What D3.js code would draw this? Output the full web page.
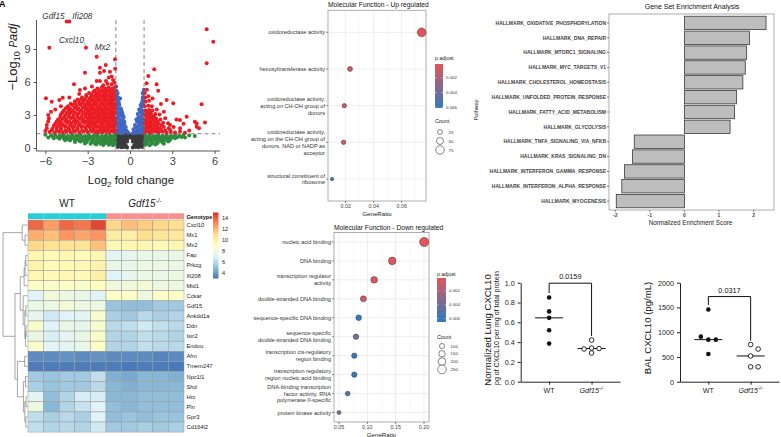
<!DOCTYPE html>
<html><head><meta charset="utf-8">
<script src="https://cdn.jsdelivr.net/npm/d3@7"></script>
<style>body{margin:0;background:#fff} text{font-family:"Liberation Sans",Arial,sans-serif}</style>
</head><body><svg id="c" width="781" height="437" xmlns="http://www.w3.org/2000/svg"></svg>
<script>
// ================= DATA =================
// Volcano: [log2 fold change, -log10 padj]
const volcanoRed = [
[-5.7,1.45],[-5.35,1.4],[-5.05,1.5],[-4.8,1.38],[-4.5,1.47],[-4.2,1.42],[-3.9,1.5],[-3.6,1.4],[-3.3,1.48],[-3.0,1.41],[-2.7,1.5],[-2.45,1.39],[-2.2,1.46],[-1.95,1.42],[-1.7,1.5],[-1.45,1.4],[-1.2,1.47],[-1.05,1.55],
[-5.55,1.62],[-5.2,1.6],[-4.9,1.66],[-4.6,1.58],[-4.3,1.64],[-4.0,1.6],[-3.7,1.67],[-3.4,1.59],[-3.1,1.65],[-2.8,1.6],[-2.55,1.66],[-2.3,1.58],[-2.05,1.64],[-1.8,1.6],[-1.55,1.67],[-1.3,1.6],[-1.08,1.65],
[-5.5,1.75],[-5.2,1.85],[-4.9,1.8],[-4.6,1.9],[-4.35,1.78],[-4.05,1.86],[-3.75,1.8],[-3.45,1.9],[-3.15,1.82],[-2.85,1.88],[-2.6,1.78],[-2.35,1.9],[-2.1,1.8],[-1.85,1.86],[-1.6,1.8],[-1.35,1.9],[-1.12,1.82],
[-5.4,2.02],[-5.1,2.0],[-4.85,2.06],[-4.55,1.98],[-4.25,2.04],[-3.95,2.0],[-3.65,2.07],[-3.35,1.99],[-3.05,2.05],[-2.8,2.0],[-2.55,2.06],[-2.3,1.98],[-2.05,2.04],[-1.8,2.0],[-1.55,2.06],[-1.3,2.0],[-1.1,2.05],
[-5.3,2.2],[-5.0,2.25],[-4.75,2.15],[-4.45,2.3],[-4.15,2.2],[-3.85,2.27],[-3.55,2.18],[-3.25,2.3],[-2.95,2.2],[-2.7,2.28],[-2.45,2.2],[-2.2,2.3],[-1.95,2.22],[-1.7,2.3],[-1.45,2.2],[-1.2,2.28],[-1.03,2.2],
[-5.2,2.42],[-4.9,2.4],[-4.6,2.45],[-4.3,2.38],[-4.0,2.44],[-3.7,2.4],[-3.4,2.46],[-3.1,2.4],[-2.85,2.45],[-2.6,2.38],[-2.35,2.44],[-2.1,2.4],[-1.85,2.46],[-1.6,2.4],[-1.35,2.45],[-1.12,2.4],
[-5.1,2.6],[-4.8,2.65],[-4.5,2.58],[-4.2,2.7],[-3.9,2.6],[-3.6,2.68],[-3.3,2.6],[-3.0,2.7],[-2.75,2.62],[-2.5,2.7],[-2.25,2.6],[-2.0,2.68],[-1.75,2.6],[-1.5,2.7],[-1.25,2.62],[-1.06,2.7],
[-4.95,2.82],[-4.65,2.8],[-4.35,2.86],[-4.05,2.8],[-3.75,2.84],[-3.45,2.8],[-3.15,2.87],[-2.9,2.8],[-2.65,2.85],[-2.4,2.8],[-2.15,2.86],[-1.9,2.8],[-1.65,2.85],[-1.4,2.8],[-1.15,2.86],
[-4.9,3.05],[-4.6,2.98],[-4.3,3.1],[-4.0,3.0],[-3.7,3.08],[-3.4,3.0],[-3.1,3.1],[-2.85,3.02],[-2.6,3.1],[-2.35,3.0],[-2.1,3.1],[-1.85,3.02],[-1.6,3.1],[-1.35,3.0],[-1.12,3.08],
[-4.8,3.22],[-4.5,3.2],[-4.2,3.26],[-3.9,3.2],[-3.6,3.25],[-3.3,3.2],[-3.0,3.26],[-2.75,3.2],[-2.5,3.25],[-2.25,3.2],[-2.0,3.26],[-1.75,3.2],[-1.5,3.25],[-1.25,3.2],[-1.05,3.26],
[-4.7,3.4],[-4.35,3.45],[-4.05,3.38],[-3.75,3.5],[-3.45,3.4],[-3.15,3.48],[-2.9,3.4],[-2.65,3.5],[-2.4,3.42],[-2.15,3.5],[-1.9,3.4],[-1.65,3.5],[-1.4,3.42],[-1.15,3.5],
[-4.55,3.62],[-4.25,3.6],[-3.95,3.66],[-3.65,3.6],[-3.35,3.65],[-3.05,3.6],[-2.8,3.66],[-2.55,3.6],[-2.3,3.65],[-2.05,3.6],[-1.8,3.66],[-1.55,3.6],[-1.3,3.65],[-1.08,3.62],
[-4.4,3.8],[-4.1,3.9],[-3.8,3.82],[-3.5,3.9],[-3.2,3.8],[-2.95,3.9],[-2.7,3.82],[-2.45,3.92],[-2.2,3.8],[-1.95,3.9],[-1.7,3.82],[-1.45,3.92],[-1.2,3.85],[-1.04,3.95],
[-4.2,4.02],[-3.9,4.05],[-3.6,4.0],[-3.35,4.06],[-3.1,4.0],[-2.85,4.05],[-2.6,4.0],[-2.35,4.06],[-2.1,4.0],[-1.85,4.05],[-1.6,4.0],[-1.35,4.06],[-1.12,4.02],
[-3.9,4.25],[-3.6,4.2],[-3.3,4.3],[-3.0,4.2],[-2.75,4.3],[-2.5,4.22],[-2.25,4.32],[-2.0,4.2],[-1.75,4.3],[-1.5,4.22],[-1.25,4.3],[-1.08,4.4],
[-3.7,4.42],[-3.45,4.45],[-3.2,4.4],[-2.9,4.46],[-2.65,4.4],[-2.4,4.45],[-2.15,4.4],[-1.9,4.46],[-1.65,4.4],[-1.4,4.45],[-1.18,4.42],
[-3.4,4.6],[-3.1,4.68],[-2.8,4.6],[-2.55,4.7],[-2.3,4.62],[-2.05,4.7],[-1.8,4.6],[-1.55,4.7],[-1.3,4.62],[-1.1,4.75],
[-3.1,4.82],[-2.75,4.85],[-2.45,4.8],[-2.2,4.86],[-1.95,4.8],[-1.7,4.85],[-1.45,4.82],[-1.2,4.88],
[-2.9,5.0],[-2.6,5.1],[-2.35,5.0],[-2.1,5.1],[-1.85,5.02],[-1.6,5.12],[-1.35,5.0],[-1.12,5.1],
[-2.5,5.22],[-2.2,5.25],[-1.95,5.2],[-1.7,5.26],[-1.45,5.22],[-1.2,5.28],
[-2.3,5.4],[-2.0,5.5],[-1.75,5.4],[-1.5,5.5],[-1.25,5.42],[-1.05,5.55],
[-1.6,5.85],[-1.3,5.8],[-1.1,5.95],[-1.9,5.7],
[-5.72,9.12],[-3.12,9.12],[-2.36,8.3],[-4.49,11.5],[-4.3,11.5],[-1.06,8.06],[-1.72,7.55],[-2.13,7.3],[-1.84,7.0],[-2.13,6.85],[-3.19,6.85],[-1.42,6.94],[-1.2,6.18],[-2.36,6.09],[-2.13,6.09],[-1.7,6.09],[-3.97,5.79],[-3.55,5.27],[-3.19,5.42],[-5.96,4.52],[-4.77,4.57],[-5.01,4.36],[-5.55,4.21],[-5.8,3.0],[-5.75,2.7],[-5.8,2.4],[-5.9,1.8],[-1.3,6.5],[-2.7,5.6],[-4.3,4.6],[-3.6,4.9],[-1.05,7.2],[-1.5,6.4],[-5.3,3.5],[-5.6,3.3],[-4.9,3.8],[-6.0,1.55],[-5.9,2.1],
[1.05,1.4],[1.3,1.45],[1.55,1.4],[1.8,1.48],[2.05,1.42],[2.3,1.5],[2.6,1.4],[2.9,1.45],[3.2,1.42],[3.55,1.5],[3.9,1.4],
[1.2,1.62],[1.45,1.6],[1.7,1.65],[1.95,1.6],[2.2,1.66],[2.5,1.6],[2.85,1.64],
[1.1,1.8],[1.35,1.85],[1.6,1.78],[1.85,1.86],[2.1,1.8],[2.4,1.9],[2.75,1.8],[3.1,1.9],
[1.2,2.02],[1.45,2.0],[1.7,2.05],[1.95,2.0],[2.25,2.05],
[1.05,2.2],[1.3,2.25],[1.55,2.18],[1.8,2.28],[2.05,2.2],[2.35,2.3],[2.7,2.25],
[1.2,2.42],[1.45,2.4],[1.7,2.45],[1.95,2.42],
[1.1,2.6],[1.35,2.65],[1.6,2.58],[1.85,2.68],[2.15,2.6],[2.5,2.7],
[1.2,2.82],[1.45,2.8],[1.7,2.85],
[1.05,3.0],[1.3,3.05],[1.55,3.0],[1.8,3.1],[2.1,3.05],
[1.2,3.22],[1.45,3.2],
[1.1,3.4],[1.35,3.45],[1.6,3.4],[1.9,3.5],
[1.05,3.8],[1.3,3.85],[1.55,3.8],
[1.1,4.2],[1.35,4.3],[1.08,4.6],[1.3,4.7],[1.05,5.0],[1.2,5.3],
[1.18,5.88],[1.3,6.55],[1.72,7.15],[1.89,5.79],[3.07,4.06],[2.6,4.36],[3.55,2.55],[4.02,2.85],[4.6,2.39],[4.73,1.94],[3.55,1.8],[2.84,2.09],[5.44,10.8],[5.91,9.66],[5.44,7.7],[5.08,3.97],[4.73,2.24],[4.9,1.79],[5.32,2.33],[2.2,4.0],[1.6,4.5],[2.4,3.3],[3.3,2.6],[4.2,1.6],[2.0,5.2],[3.8,2.2]
];
const volcanoBlue = [
[-0.98,5.6],[-0.95,5.2],[-0.9,4.9],[-0.98,4.7],[-0.85,4.6],[-0.95,4.3],[-0.8,4.2],[-0.7,4.5],[-0.9,4.0],[-0.75,3.9],[-0.98,3.7],[-0.65,3.6],[-0.85,3.5],[-0.7,3.3],[-0.55,3.2],[-0.95,3.2],[-0.8,3.0],[-0.6,2.9],[-0.45,2.8],[-0.9,2.7],[-0.7,2.6],[-0.5,2.5],[-0.95,2.4],[-0.8,2.3],[-0.6,2.2],[-0.4,2.2],[-0.3,1.9],[-0.9,2.0],[-0.7,1.9],[-0.5,1.8],[-0.95,1.6],[-0.75,1.6],[-0.55,1.5],[-0.35,1.5],[-0.2,1.45],[-0.85,1.4],[-0.65,1.35],[-0.45,1.4],[-0.12,1.38],
[-0.88,5.0],[-0.92,4.45],[-0.78,4.0],[-0.88,3.6],[-0.6,3.4],[-0.75,3.1],[-0.5,3.0],[-0.85,2.85],[-0.62,2.45],[-0.4,2.4],[-0.85,2.15],[-0.55,2.05],[-0.35,1.7],[-0.8,1.75],[-0.6,1.7],[-0.25,1.6],
[0.98,5.3],[0.95,4.9],[0.9,4.6],[0.98,4.3],[0.85,4.1],[0.95,3.9],[0.8,3.7],[0.9,3.4],[0.7,3.3],[0.98,3.1],[0.8,3.0],[0.6,2.8],[0.9,2.7],[0.7,2.5],[0.5,2.4],[0.95,2.3],[0.8,2.2],[0.6,2.0],[0.4,1.9],[0.9,1.9],[0.7,1.7],[0.5,1.6],[0.3,1.5],[0.95,1.5],[0.8,1.4],[0.6,1.38],[0.4,1.36],[0.2,1.35],
[0.9,5.0],[0.88,4.3],[0.75,3.9],[0.65,3.5],[0.85,3.2],[0.55,3.1],[0.75,2.75],[0.45,2.6],[0.85,2.45],[0.6,2.3],[0.35,2.1],[0.75,2.05],[0.5,1.9],[0.25,1.7],[0.85,1.7],[0.6,1.55]
];
const volcanoGreen = [
[-5.6,1.15],[-5.3,1.2],[-5.0,1.12],[-4.7,1.18],[-4.4,1.1],[-4.1,1.2],[-3.8,1.14],[-3.5,1.2],[-3.2,1.1],[-2.9,1.18],[-2.6,1.12],[-2.3,1.2],[-2.0,1.1],[-1.7,1.18],[-1.4,1.12],[-1.1,1.2],
[1.1,1.15],[1.4,1.2],[1.7,1.1],[2.0,1.18],[2.3,1.12],[2.6,1.2],[2.9,1.1],[3.2,1.18],[3.5,1.12],[3.8,1.2],[4.2,1.15],
[-5.45,1.0],[-5.15,0.98],[-4.85,1.02],[-4.55,0.97],[-4.25,1.01],[-3.95,0.98],[-3.65,1.02],[-3.35,0.97],[-3.05,1.0],[-2.75,0.98],[-2.45,1.02],[-2.15,0.97],[-1.85,1.01],[-1.55,0.98],[-1.25,1.02],[-1.05,0.98],
[1.25,1.0],[1.55,0.98],[1.85,1.02],[2.15,0.97],[2.45,1.01],[2.75,0.98],[3.05,1.02],[3.35,0.97],[3.65,1.0],
[-5.0,0.85],[-4.7,0.9],[-4.4,0.82],[-4.1,0.88],[-3.8,0.8],[-3.5,0.9],[-3.2,0.84],[-2.9,0.9],[-2.6,0.8],[-2.3,0.88],[-2.0,0.82],[-1.7,0.9],[-1.4,0.84],[-1.1,0.9],
[1.1,0.85],[1.4,0.9],[1.7,0.82],[2.0,0.88],[2.3,0.8],[2.6,0.9],[2.9,0.85],[3.2,0.9],
[-4.6,0.7],[-4.25,0.68],[-3.9,0.72],[-3.6,0.67],[-3.3,0.71],[-3.0,0.68],[-2.7,0.72],[-2.4,0.67],[-2.1,0.71],[-1.8,0.68],[-1.5,0.72],[-1.2,0.68],
[1.2,0.7],[1.5,0.68],[1.8,0.72],[2.1,0.67],[2.45,0.71],[2.8,0.68],
[-3.9,0.55],[-3.5,0.6],[-3.1,0.52],[-2.7,0.58],[-2.3,0.5],[-1.9,0.6],[-1.6,0.52],[-1.3,0.58],[-1.05,0.5],
[1.05,0.55],[1.3,0.6],[1.6,0.5],[1.9,0.58],[2.3,0.52],[2.7,0.6],
[-3.2,0.42],[-2.8,0.4],[-2.5,0.44],[-2.1,0.4],[-1.75,0.43],[-1.4,0.4],[-1.1,0.42],[1.2,0.42],[1.55,0.4],[1.95,0.43],[2.4,0.4],
[-2.4,0.32],[-1.9,0.28],[-1.5,0.3],[-1.2,0.26],[1.1,0.3],[1.4,0.26],[1.8,0.32],
[-6.0,1.2],[-5.8,0.95],[4.6,1.1],[3.9,0.95],[-5.4,0.9]
];
const volcanoGrey = [
[-0.95,1.2],[-0.75,1.2],[-0.55,1.2],[-0.35,1.2],[-0.15,1.2],[0.05,1.2],[0.25,1.2],[0.45,1.2],[0.65,1.2],[0.85,1.2],
[-0.85,1.05],[-0.65,1.05],[-0.45,1.05],[-0.25,1.05],[0.0,1.05],[0.25,1.05],[0.45,1.05],[0.65,1.05],[0.88,1.05],
[-0.95,0.9],[-0.75,0.9],[-0.55,0.9],[-0.35,0.9],[-0.15,0.9],[0.15,0.9],[0.35,0.9],[0.55,0.9],[0.75,0.9],[0.95,0.9],
[-0.85,0.75],[-0.65,0.75],[-0.45,0.75],[-0.25,0.75],[0.25,0.75],[0.45,0.75],[0.65,0.75],[0.88,0.75],
[-0.95,0.6],[-0.75,0.6],[-0.55,0.6],[-0.35,0.6],[-0.2,0.6],[0.2,0.6],[0.4,0.6],[0.6,0.6],[0.8,0.6],[0.95,0.6],
[-0.8,0.5],[-0.6,0.45],[-0.4,0.45],[0.4,0.45],[0.6,0.45],[0.8,0.5],
[-0.9,0.35],[-0.7,0.35],[-0.5,0.3],[-0.3,0.25],[0.3,0.25],[0.5,0.3],[0.7,0.35],[0.9,0.35],
[-0.75,0.2],[0.75,0.2],
[-0.85,0.1],[-0.6,0.08],[-0.4,0.1],[-0.2,0.05],[0.2,0.05],[0.4,0.1],[0.6,0.08],[0.85,0.1]
];
const volcanoXTicks = [-6,-3,0,3,6];
const volcanoYTicks = [0,3,6,9];
const volcanoLabels = [
  {gene:"Gdf15", fc:-4.49, p:11.5},
  {gene:"Ifi208", fc:-4.3, p:11.5},
  {gene:"Cxcl10", fc:-3.12, p:9.12},
  {gene:"Mx2", fc:-2.36, p:8.3}
];

// Heatmap
const heatGenes = ["Cxcl10","Mx1","Mx2","Fap","Prkcg","Ifi208","Mid1","Cckar","Gdf15","Ankdd1a","Ddn","Isir2","Endou","Afm","Tmem247","Npc1l1","Shd","Hrc","Pln","Gpr3","Cd164l2"];
const heatWT = [
[13.8,12.6,13.8,13.5,14.5],[12.2,11.8,12.8,12.4,12.8],[11.2,10.8,10.8,10.8,11.8],[9.6,9.2,9.6,9.2,9.6],[9.8,9.2,9.4,9.4,9.8],
[9.6,9.4,9.6,9.4,10.0],[8.8,8.6,8.8,8.6,9.0],[7.0,8.0,7.8,7.6,7.0],[7.6,7.8,8.2,7.8,7.8],[7.4,6.6,7.0,7.2,8.4],
[8.6,7.0,7.6,7.4,8.4],[7.6,6.8,7.2,7.6,8.6],[8.6,7.2,7.2,7.6,8.8],[3.6,3.6,3.8,3.6,3.8],[3.2,3.2,3.2,3.2,3.2],
[5.4,5.2,5.4,5.4,6.2],[5.6,5.2,5.4,5.4,6.0],[7.2,5.0,5.8,6.8,6.8],[7.8,4.8,5.8,6.4,7.0],[6.2,5.6,6.0,5.6,7.0],[6.2,5.8,6.0,5.8,6.6]
];
const heatKO = [
[11.2,11.8,11.5,11.2,11.0],[10.2,10.0,11.0,10.6,10.4],[9.4,9.6,9.6,9.4,9.6],[7.2,7.4,7.6,7.6,7.6],[7.6,7.6,7.8,7.8,7.6],
[7.0,7.4,7.6,7.6,7.8],[8.0,8.0,8.2,7.8,7.8],[8.8,8.8,7.8,8.8,8.8],[5.2,5.0,5.0,5.4,5.4],[5.6,5.4,6.0,5.6,5.8],
[6.0,6.2,6.6,6.2,6.0],[5.8,5.8,6.2,6.0,5.8],[5.8,5.8,6.2,6.0,6.0],[3.6,3.6,3.6,3.4,3.6],[3.2,3.1,3.2,3.2,3.1],
[4.6,4.4,4.8,4.8,4.6],[4.8,4.6,4.8,4.8,4.8],[4.8,4.8,5.0,5.0,5.0],[5.0,4.8,5.0,5.0,5.0],[5.0,5.2,5.0,5.2,5.2],[5.4,5.4,5.6,5.4,5.6]
];
const heatLegendTicks = [4,6,8,10,12,14];
const heatTree = {h:1, c:[
  {h:0.2, c:["Cxcl10", {h:0.08, c:["Mx1","Mx2"]}]},
  {h:0.5, c:[
    {h:0.28, c:[
      {h:0.12, c:[{h:0.08, c:[{h:0.05, c:["Fap","Prkcg"]}, "Ifi208"]}, "Mid1"]},
      {h:0.16, c:["Cckar", {h:0.09, c:[{h:0.05, c:["Gdf15","Ankdd1a"]}, {h:0.06, c:[{h:0.04, c:["Ddn","Isir2"]}, "Endou"]}]}]}
    ]},
    {h:0.4, c:[
      {h:0.1, c:["Afm","Tmem247"]},
      {h:0.15, c:[{h:0.06, c:["Npc1l1","Shd"]}, {h:0.09, c:[{h:0.04, c:["Hrc","Pln"]}, {h:0.05, c:["Gpr3","Cd164l2"]}]}]}
    ]}
  ]}
]};

// GO up
const goUpTerms = [
  ["oxidoreductase activity"],
  ["hexosyltransferase activity"],
  ["oxidoreductase activity,","acting on CH-OH group of","donors"],
  ["oxidoreductase activity,","acting on the CH-OH group of","donors, NAD or NADP as","acceptor"],
  ["structural constituent of","ribosome"]
];
const goUpRatio = [0.0743, 0.0231, 0.0190, 0.0185, 0.0103];
const goUpCount = [80, 25, 20, 20, 11];
const goUpPadj = [0.0003, 0.0009, 0.0008, 0.0009, 0.0062];
const goUpXTicks = [0.02, 0.04, 0.06];
const goUpCountLegend = [25, 50, 75];

// GO down
const goDownTerms = [
  ["nucleic acid binding"],
  ["DNA binding"],
  ["transcription regulator","activity"],
  ["double-stranded DNA binding"],
  ["sequence-specific DNA binding"],
  ["sequence-specific","double-stranded DNA binding"],
  ["transcription cis-regulatory","region binding"],
  ["transcription regulatory","region nucleic acid binding"],
  ["DNA-binding transcription","factor activity, RNA","polymerase II-specific"],
  ["protein kinase activity"]
];
const goDownRatio = [0.2003, 0.144, 0.112, 0.093, 0.0848, 0.080, 0.077, 0.077, 0.0653, 0.050];
const goDownCount = [280, 200, 157, 130, 119, 112, 108, 108, 91, 70];
const goDownPadj = [0.0002, 0.0004, 0.0006, 0.0008, 0.0063, 0.0036, 0.0058, 0.006, 0.0054, 0.0040];
const goDownXTicks = [0.05, 0.10, 0.15, 0.20];
const goDownCountLegend = [100, 150, 200, 250];
const padjLegendTicks = [0.002, 0.004, 0.006];

// GSEA
const gseaPathways = ["HALLMARK_OXIDATIVE_PHOSPHORYLATION","HALLMARK_DNA_REPAIR","HALLMARK_MTORC1_SIGNALING","HALLMARK_MYC_TARGETS_V1","HALLMARK_CHOLESTEROL_HOMEOSTASIS","HALLMARK_UNFOLDED_PROTEIN_RESPONSE","HALLMARK_FATTY_ACID_METABOLISM","HALLMARK_GLYCOLYSIS","HALLMARK_TNFA_SIGNALING_VIA_NFKB","HALLMARK_KRAS_SIGNALING_DN","HALLMARK_INTERFERON_GAMMA_RESPONSE","HALLMARK_INTERFERON_ALPHA_RESPONSE","HALLMARK_MYOGENESIS"];
const gseaNES = [2.36, 1.88, 1.80, 1.76, 1.69, 1.51, 1.45, 1.32, -1.45, -1.50, -1.73, -1.81, -1.97];
const gseaXTicks = [-2,-1,0,1,2];

// CXCL10 dot plots
const groups = ["WT","Gdf15"];
const lungWT = [0.85, 0.71, 0.645, 0.52, 0.385];
const lungKO = [0.42, 0.34, 0.335, 0.33, 0.29];
const lungP = "0.0159";
const lungTicks = [0,0.2,0.4,0.6,0.8,1.0];
const balWT = [1460, 850, 850, 910, 560];
const balKO = [520, 750, 660, 300, 300];
const balP = "0.0317";
const balTicks = [0,500,1000,1500,2000];

// ================= DRAW =================
const svg = d3.select("#c");
function txt(g, x, y, s, size, o = {}) {
  const t = g.append("text").attr("x", x).attr("y", y).style("font-size", size + "px").text(s);
  t.attr("fill", o.fill || "#222");
  if (o.anchor) t.attr("text-anchor", o.anchor);
  if (o.weight) t.style("font-weight", o.weight);
  if (o.italic) t.style("font-style", "italic");
  return t;
}

// panel letter
txt(svg, -1, 7, "A", 9, {weight:"bold", fill:"#000"});

// ---------- Volcano ----------
(function(){
  const g = svg.append("g");
  const x = d3.scaleLinear().domain([-6.63, 6.4]).range([36.5, 220.2]);
  const y = d3.scaleLinear().domain([-0.27, 11.6]).range([151, 20.4]);
  const R = 2.0;
  const layers = [[volcanoGrey,"#3b3b3b"],[volcanoGreen,"#2e8b3e"],[volcanoBlue,"#3f67c4"],[volcanoRed,"#ec1c24"]];
  layers.forEach(([arr,col]) => {
    g.append("g").selectAll("circle").data(arr).join("circle")
      .attr("cx", d => x(d[0])).attr("cy", d => y(d[1])).attr("r", R).attr("fill", col);
  });
  // cutoffs
  [-1,1].forEach(v => g.append("line").attr("x1", x(v)).attr("x2", x(v)).attr("y1", 20).attr("y2", 151)
    .attr("stroke","#666").attr("stroke-width",0.8).attr("stroke-dasharray","4,3"));
  g.append("line").attr("x1", 36.5).attr("x2", 220).attr("y1", y(-Math.log10(0.05))).attr("y2", y(-Math.log10(0.05)))
    .attr("stroke","#666").attr("stroke-width",0.8).attr("stroke-dasharray","4,3");
  // axes
  const ax = g.append("g").attr("transform","translate(0,151)")
    .call(d3.axisBottom(x).tickValues(volcanoXTicks).tickSize(3).tickSizeOuter(0).tickFormat(d3.format("d")));
  const ay = g.append("g").attr("transform","translate(36.5,0)")
    .call(d3.axisLeft(y).tickValues(volcanoYTicks).tickSize(3).tickSizeOuter(0));
  [ax, ay].forEach(a => {
    a.select(".domain").attr("stroke","#555");
    a.selectAll(".tick line").attr("stroke","#555");
    a.selectAll(".tick text").style("font-size","11px").attr("fill","#444").style("font-family","Liberation Sans, Arial, sans-serif");
  });
  ay.select(".domain").attr("d","M0,20V151");
  ax.select(".domain").attr("d","M36.5,0H220.2");
  // labels
  const L = {};
  volcanoLabels.forEach(d => L[d.gene] = d);
  txt(g, x(L.Gdf15.fc) - 2, y(L.Gdf15.p) - 3, "Gdf15", 8.2, {anchor:"end", italic:true, fill:"#333"});
  txt(g, x(L.Ifi208.fc) + 3, y(L.Ifi208.p) - 3, "Ifi208", 8.2, {italic:true, fill:"#333"});
  txt(g, x(L.Cxcl10.fc) - 2, y(L.Cxcl10.p) - 5, "Cxcl10", 8.2, {anchor:"end", italic:true, fill:"#333"});
  g.append("line").attr("x1", x(L.Cxcl10.fc) - 2).attr("y1", y(L.Cxcl10.p) - 5).attr("x2", x(L.Cxcl10.fc)).attr("y2", y(L.Cxcl10.p) - 1.5).attr("stroke","#555").attr("stroke-width",0.5);
  txt(g, x(L.Mx2.fc) - 2, y(L.Mx2.p) - 7, "Mx2", 8.2, {italic:true, fill:"#333"});
  // axis titles
  const yl = g.append("text").attr("transform","translate(17,57) rotate(-90)").attr("text-anchor","middle").attr("fill","#222").style("font-size","13px");
  yl.append("tspan").text("\u2212Log");
  yl.append("tspan").attr("dy",3).style("font-size","9px").text("10");
  yl.append("tspan").attr("dy",-3).text(" ");
  yl.append("tspan").style("font-style","italic").style("font-size","10px").text("P");
  yl.append("tspan").style("font-style","italic").text("adj");
  const xl = g.append("text").attr("x",131).attr("y",184).attr("text-anchor","middle").attr("fill","#222").style("font-size","11.5px");
  xl.append("tspan").text("Log");
  xl.append("tspan").attr("dy",3).style("font-size","8px").text("2");
  xl.append("tspan").attr("dy",-3).text(" fold change");
})();

// ---------- Heatmap ----------
(function(){
  const g = svg.append("g");
  const x0 = 28, cw = 15.6, y0 = 220, ch = 10.1;
  const col = d3.scaleLinear().domain([3,5,7,9,11,13,15])
    .range(["#4575B4","#91BFDB","#E0F3F8","#FFFFBF","#FEE090","#FC8D59","#D73027"]).clamp(true);
  const rows = heatGenes.map((gname,i) => ({gene:gname, vals: heatWT[i].concat(heatKO[i]), i}));
  rows.forEach(r => {
    g.append("g").selectAll("rect").data(r.vals).join("rect")
      .attr("x",(d,j) => x0 + j*cw).attr("y", y0 + r.i*ch).attr("width", cw).attr("height", ch)
      .attr("fill", d => col(d)).attr("stroke","#9a9a9a").attr("stroke-width",0.5);
    txt(g, x0 + 10*cw + 2.5, y0 + r.i*ch + ch/2 + 2, r.gene, 5.8, {fill:"#222"});
  });
  // annotation
  for (let j = 0; j < 10; j++) {
    g.append("rect").attr("x", x0 + j*cw).attr("y", 213.3).attr("width", cw).attr("height", 5.8)
      .attr("fill", j < 5 ? "#25cfd6" : "#f7918d");
  }
  txt(g, x0 + 10*cw + 2.5, 218.5, "Genotype", 5.6, {weight:"bold", fill:"#111"});
  txt(g, x0 + 2.5*cw, 207, "WT", 10, {anchor:"middle"});
  const ko = g.append("text").attr("x", x0 + 7.5*cw).attr("y", 207).attr("text-anchor","middle").attr("fill","#222").style("font-size","10px");
  ko.append("tspan").style("font-style","italic").text("Gdf15");
  ko.append("tspan").attr("dy",-4).style("font-size","6.5px").style("font-style","italic").text("-/-");
  // dendrogram
  const xd = d3.scaleLinear().domain([0,1]).range([27, 3]);
  const ln = (x1,y1,x2,y2) => g.append("line").attr("x1",x1).attr("y1",y1).attr("x2",x2).attr("y2",y2).attr("stroke","#808080").attr("stroke-width",0.7);
  function walk(n) {
    if (typeof n === "string") return {x: 27.5, y: y0 + heatGenes.indexOf(n)*ch + ch/2};
    const kids = n.c.map(walk);
    const nx = xd(n.h);
    ln(nx, kids[0].y, nx, kids[kids.length-1].y);
    kids.forEach(k => ln(nx, k.y, k.x, k.y));
    return {x: nx, y: d3.mean(kids, k => k.y)};
  }
  walk(heatTree);
  // color legend
  const defs = svg.append("defs");
  const lg = defs.append("linearGradient").attr("id","hg").attr("x1",0).attr("y1",1).attr("x2",0).attr("y2",0);
  col.domain().forEach((d,i) => lg.append("stop").attr("offset", (d-3)/12).attr("stop-color", col.range()[i]));
  const ly = d3.scaleLinear().domain([3,15]).range([278.5, 212.5]);
  g.append("rect").attr("x",213).attr("y",212.5).attr("width",5.5).attr("height",66).attr("fill","url(#hg)");
  heatLegendTicks.forEach(t => txt(g, 222, ly(t) + 2, t, 5.6, {fill:"#222"}));
})();

// ---------- GO dot plots ----------
const padjCol = d3.scaleLinear().domain([0.0001, 0.0063]).range(["#e4555a","#2c7bbf"]).interpolate(d3.interpolateRgb).clamp(true);
function goPlot(o) {
  const g = svg.append("g");
  const x = d3.scaleLinear().domain(o.xDomain).range([o.x0, o.x1]);
  const y = d3.scalePoint().domain(d3.range(o.terms.length)).range([o.y0, o.y1]).padding(o.pad);
  const rs = d3.scaleLinear().domain(o.countDomain).range([o.rMin*o.rMin, o.rMax*o.rMax]);
  const r = c => Math.sqrt(Math.max(0.5, rs(c)));
  g.append("rect").attr("x",o.x0).attr("y",o.y0).attr("width",o.x1-o.x0).attr("height",o.y1-o.y0).attr("fill","#fff");
  o.minor.forEach(v => g.append("line").attr("x1",x(v)).attr("x2",x(v)).attr("y1",o.y0).attr("y2",o.y1).attr("stroke","#f3f3f3").attr("stroke-width",0.5));
  o.ticks.forEach(v => g.append("line").attr("x1",x(v)).attr("x2",x(v)).attr("y1",o.y0).attr("y2",o.y1).attr("stroke","#e6e6e6").attr("stroke-width",0.7));
  o.terms.forEach((t,i) => {
    g.append("line").attr("x1",o.x0).attr("x2",o.x1).attr("y1",y(i)).attr("y2",y(i)).attr("stroke","#e6e6e6").attr("stroke-width",0.7);
    g.append("line").attr("x1",o.x0-2).attr("x2",o.x0).attr("y1",y(i)).attr("y2",y(i)).attr("stroke","#333").attr("stroke-width",0.6);
    const lh = 6.9, n = t.length;
    t.forEach((s,k) => txt(g, o.x0 - 3, y(i) - (n-1)/2*lh + k*lh + 2, s, 5.6, {anchor:"end", fill:"#333"}));
  });
  g.append("rect").attr("x",o.x0).attr("y",o.y0).attr("width",o.x1-o.x0).attr("height",o.y1-o.y0).attr("fill","none").attr("stroke","#9a9a9a").attr("stroke-width",0.8);
  g.selectAll("circle.pt").data(o.terms.map((t,i)=>i)).join("circle").attr("class","pt")
    .attr("cx", i => x(o.ratio[i])).attr("cy", i => y(i)).attr("r", i => r(o.count[i]))
    .attr("fill", i => padjCol(o.padj[i])).attr("stroke","#3a3a3a").attr("stroke-width",0.5);
  o.ticks.forEach(v => {
    g.append("line").attr("x1",x(v)).attr("x2",x(v)).attr("y1",o.y1).attr("y2",o.y1+2).attr("stroke","#333").attr("stroke-width",0.6);
    txt(g, x(v), o.y1 + 7, d3.format(o.fmt)(v), 5.4, {anchor:"middle", fill:"#444"});
  });
  txt(g, (o.x0+o.x1)/2, o.y1 + 14.5, "GeneRatio", 6.2, {anchor:"middle"});
  txt(g, o.x0, o.y0 - 3, o.title, 6.7, {fill:"#111"});
  // legend
  const L = o.leg;
  txt(g, L.x, L.y, "p.adjust", 5.3);
  const gid = "pg" + o.id;
  const lg = svg.append("defs").append("linearGradient").attr("id",gid).attr("x1",0).attr("y1",0).attr("x2",0).attr("y2",1);
  lg.append("stop").attr("offset",0).attr("stop-color",padjCol(L.pTop));
  lg.append("stop").attr("offset",0.5).attr("stop-color",padjCol((L.pTop+L.pBot)/2));
  lg.append("stop").attr("offset",1).attr("stop-color",padjCol(L.pBot));
  g.append("rect").attr("x",L.x).attr("y",L.barY0).attr("width",L.barW).attr("height",L.barY1-L.barY0).attr("fill",`url(#${gid})`);
  const py = d3.scaleLinear().domain([L.pTop, L.pBot]).range([L.barY0, L.barY1]);
  padjLegendTicks.forEach(p => {
    g.append("line").attr("x1",L.x).attr("x2",L.x+1.5).attr("y1",py(p)).attr("y2",py(p)).attr("stroke","#fff").attr("stroke-width",0.5);
    g.append("line").attr("x1",L.x+L.barW-1.5).attr("x2",L.x+L.barW).attr("y1",py(p)).attr("y2",py(p)).attr("stroke","#fff").attr("stroke-width",0.5);
    txt(g, L.x + L.barW + 3, py(p) + 1.6, d3.format(".3f")(p), 4.4, {fill:"#333"});
  });
  txt(g, L.x, L.cY, "Count", 5.3);
  o.countLegend.forEach((c,k) => {
    const cy = L.cY + L.c0 + k*L.cStep;
    g.append("circle").attr("cx", L.cx).attr("cy", cy).attr("r", r(c)).attr("fill","#fff").attr("stroke","#333").attr("stroke-width",0.6);
    txt(g, L.cx + 8.5, cy + 1.6, c, 4.4, {fill:"#333"});
  });
}
goPlot({id:"u", terms:goUpTerms, ratio:goUpRatio, count:goUpCount, padj:goUpPadj,
  x0:328, x1:426, y0:10.3, y1:201, pad:0.6, xDomain:[0.00736, 0.0774],
  ticks:goUpXTicks, minor:[0.01,0.03,0.05,0.07], fmt:".2f",
  countDomain:[11,80], rMin:1.7, rMax:4.4, countLegend:goUpCountLegend,
  title:"Molecular Function - Up regulated",
  leg:{x:435, y:60, barY0:64, barY1:108, barW:8, pTop:0.00013, pBot:0.0061, cY:123, c0:9, cStep:9, cx:440}});
goPlot({id:"d", terms:goDownTerms, ratio:goDownRatio, count:goDownCount, padj:goDownPadj,
  x0:334, x1:429, y0:232.5, y1:422, pad:0.5, xDomain:[0.0412, 0.2088],
  ticks:goDownXTicks, minor:[0.075,0.125,0.175], fmt:".2f",
  countDomain:[70,280], rMin:2.0, rMax:4.6, countLegend:goDownCountLegend,
  title:"Molecular Function - Down regulated",
  leg:{x:437, y:275.5, barY0:278, barY1:322, barW:9, pTop:0.00014, pBot:0.0065, cY:338.5, c0:7.5, cStep:7.8, cx:442}});

// ---------- GSEA ----------
(function(){
  const g = svg.append("g");
  const x0 = 609, x1 = 774, y0 = 14, y1 = 210;
  const x = d3.scaleLinear().domain([-2.18, 2.59]).range([x0, x1]);
  const y = d3.scalePoint().domain(gseaPathways).range([y0, y1]).padding(0.6);
  const bh = y.step() * 0.9;
  g.append("rect").attr("x",x0).attr("y",y0).attr("width",x1-x0).attr("height",y1-y0).attr("fill","#fff").attr("stroke","#9a9a9a").attr("stroke-width",0.8);
  g.selectAll("rect.bar").data(gseaPathways).join("rect").attr("class","bar")
    .attr("x",(d,i) => Math.min(x(0), x(gseaNES[i]))).attr("width",(d,i) => Math.abs(x(gseaNES[i]) - x(0)))
    .attr("y", d => y(d) - bh/2).attr("height", bh)
    .attr("fill","#bdbdbd").attr("stroke","#3a3a3a").attr("stroke-width",0.8);
  gseaPathways.forEach(p => {
    g.append("line").attr("x1",x0-2).attr("x2",x0).attr("y1",y(p)).attr("y2",y(p)).attr("stroke","#333").attr("stroke-width",0.6);
    txt(g, x0 - 3, y(p) + 1.8, p, 5, {anchor:"end", weight:"bold", fill:"#444"});
  });
  gseaXTicks.forEach(v => {
    g.append("line").attr("x1",x(v)).attr("x2",x(v)).attr("y1",y1).attr("y2",y1+2).attr("stroke","#333").attr("stroke-width",0.6);
    txt(g, x(v), y1 + 7, v, 5, {anchor:"middle", fill:"#444", weight:"bold"});
  });
  txt(g, (x0+x1)/2 - 1, y1 + 14.5, "Normalized Enrichment Score", 6.3, {anchor:"middle"});
  txt(g, 692, 9, "Gene Set Enrichment Analysis", 7, {anchor:"middle", fill:"#111"});
  g.append("text").attr("transform","translate(478,110) rotate(-90)").attr("text-anchor","middle").attr("fill","#222").style("font-size","5.5px").text("Pathway");
})();

// ---------- CXCL10 dot plots ----------
function swarm(vals, y, d, thr) {
  const placed = [];
  return vals.map(v => {
    const py = y(v);
    for (const c of [0, d, -d, 2*d, -2*d]) {
      if (placed.every(p => Math.hypot(p.x - c, p.y - py) >= thr)) { placed.push({x:c, y:py}); return {v, dx:c}; }
    }
    return {v, dx:0};
  });
}
function dotPlot(o) {
  const g = svg.append("g");
  const y = d3.scaleLinear().domain(o.yDomain).range([381.7, 282.7]);
  const x = d3.scalePoint().domain(groups).range([o.ax, o.ax2]).padding(0.67);
  const ay = g.append("g").attr("transform",`translate(${o.ax},0)`).call(d3.axisLeft(y).tickValues(o.ticks).tickSize(3).tickSizeOuter(0).tickFormat(d3.format(o.fmt)));
  const ax = g.append("g").attr("transform","translate(0,381.7)").call(d3.axisBottom(x).tickSize(3).tickSizeOuter(0).tickFormat(""));
  [ay, ax].forEach(a => {
    a.select(".domain").attr("stroke","#222").attr("stroke-width",1);
    a.selectAll(".tick line").attr("stroke","#222").attr("stroke-width",1);
    a.selectAll(".tick text").style("font-size","7.2px").attr("fill","#222").style("font-family","Liberation Sans, Arial, sans-serif");
  });
  txt(g, x("WT"), 393, "WT", 7.2, {anchor:"middle"});
  const kt = g.append("text").attr("x", x("Gdf15")).attr("y", 393).attr("text-anchor","middle").attr("fill","#222").style("font-size","7.2px");
  kt.append("tspan").style("font-style","italic").text("Gdf15");
  kt.append("tspan").attr("dy",-3).style("font-size","5px").style("font-style","italic").text("-/-");
  [[o.wt,"WT",true],[o.ko,"Gdf15",false]].forEach(([vals,grp,filled]) => {
    const cx = x(grp);
    const med = d3.median(vals);
    g.append("line").attr("x1",cx-14).attr("x2",cx+14).attr("y1",y(med)).attr("y2",y(med)).attr("stroke","#111").attr("stroke-width",1);
    swarm(vals, y, 7.5, 4.5).forEach(p => {
      g.append("circle").attr("cx",cx + p.dx).attr("cy",y(p.v)).attr("r",2.3)
        .attr("fill", filled ? "#111" : "#fff").attr("stroke","#111").attr("stroke-width", filled ? 0 : 0.9);
    });
  });
  const top = y(o.bracket);
  const l1 = y(d3.max(o.wt)) - 4.5, l2 = y(d3.max(o.ko)) - 4;
  g.append("path").attr("d",`M${x("WT")},${l1}V${top}H${x("Gdf15")}V${l2}`).attr("fill","none").attr("stroke","#111").attr("stroke-width",1);
  txt(g, (x("WT")+x("Gdf15"))/2, top - 4, o.p, 7.3, {anchor:"middle", fill:"#111"});
  o.titles.forEach(t => g.append("text").attr("transform",`translate(${t.x},${t.y}) rotate(-90)`).attr("text-anchor","middle").attr("fill","#111").style("font-size",t.size+"px").text(t.s));
}
dotPlot({yDomain:[0,1], ticks:lungTicks, fmt:".1f", ax:520.7, ax2:620, wt:lungWT, ko:lungKO, p:lungP, bracket:0.995,
  titles:[{s:"Normalized Lung CXCL10", x:490.5, y:330, size:9.6},{s:"pg of CXCL10 per mg of total protein", x:499, y:328, size:7}]});
dotPlot({yDomain:[0,2000], ticks:balTicks, fmt:"d", ax:680, ax2:779, wt:balWT, ko:balKO, p:balP, bracket:1720,
  titles:[{s:"BAL CXCL10 (pg/mL)", x:651, y:328, size:9.6}]});
</script></body></html>
